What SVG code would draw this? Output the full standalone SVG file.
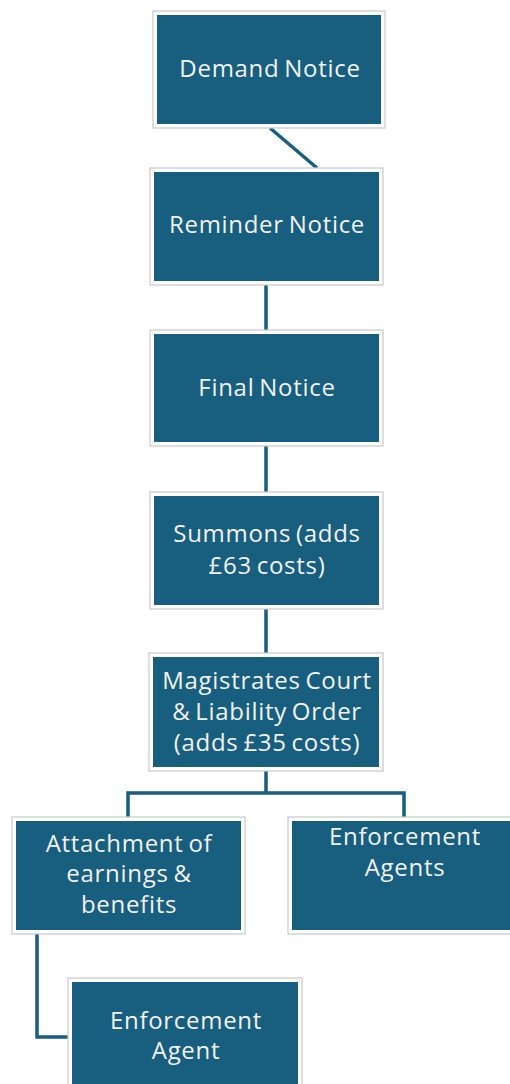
<svg xmlns="http://www.w3.org/2000/svg" width="510" height="1084" viewBox="0 0 510 1084">
<style>
.o{fill:#ffffff;stroke:#c8c8c8;stroke-width:1.2}
.i{fill:#175e7f}
.t{font-family:"Open Sans","Liberation Sans",sans-serif;font-size:24px;letter-spacing:0.7px;word-spacing:-2px;fill:#f2f2f2;text-anchor:middle}
.c{fill:none;stroke:#175e7f;stroke-width:3.5}
</style>
<rect width="510" height="1084" fill="#ffffff"/>
<g id="connectors">
<path class="c" d="M270 128 L317 168"/>
<path class="c" d="M266 285 V330"/>
<path class="c" d="M266 446 V492"/>
<path class="c" d="M266 609 V653"/>
<path class="c" d="M266 771 V793 M128 817 V793 H404 V817"/>
<path class="c" d="M37 934 V1037 H68"/>
</g>
<g id="n1"><rect class="o" x="153" y="11" width="232" height="117"/><rect class="i" x="157" y="15" width="224" height="109"/><text class="t" x="270" y="77">Demand Notice</text></g>
<g id="n2"><rect class="o" x="150" y="168" width="233" height="117"/><rect class="i" x="154" y="172" width="225" height="109"/><text class="t" x="267" y="233">Reminder Notice</text></g>
<g id="n3"><rect class="o" x="150" y="330" width="233" height="116"/><rect class="i" x="154" y="334" width="225" height="108"/><text class="t" x="267" y="396">Final Notice</text></g>
<g id="n4"><rect class="o" x="150" y="492" width="233" height="117"/><rect class="i" x="154" y="496" width="225" height="109"/><text class="t" x="267" y="542">Summons (adds</text><text class="t" x="267" y="574">£63 costs)</text></g>
<g id="n5"><rect class="o" x="149" y="653" width="234" height="118"/><rect class="i" x="153" y="657" width="226" height="110"/><text class="t" x="267" y="689">Magistrates Court</text><text class="t" x="267" y="720">&amp; Liability Order</text><text class="t" x="267" y="751">(adds £35 costs)</text></g>
<g id="n6"><rect class="o" x="12" y="817" width="233" height="117"/><rect class="i" x="16" y="821" width="225" height="109"/><text class="t" x="129" y="852">Attachment of</text><text class="t" x="129" y="882">earnings &amp;</text><text class="t" x="129" y="913">benefits</text></g>
<g id="n7"><rect class="o" x="288" y="817" width="233" height="117"/><rect class="i" x="292" y="821" width="225" height="109"/><text class="t" x="405" y="845">Enforcement</text><text class="t" x="405" y="876">Agents</text></g>
<g id="n8"><rect class="o" x="68" y="978" width="234" height="117"/><rect class="i" x="72" y="982" width="226" height="109"/><text class="t" x="186" y="1029">Enforcement</text><text class="t" x="186" y="1059">Agent</text></g>
</svg>
